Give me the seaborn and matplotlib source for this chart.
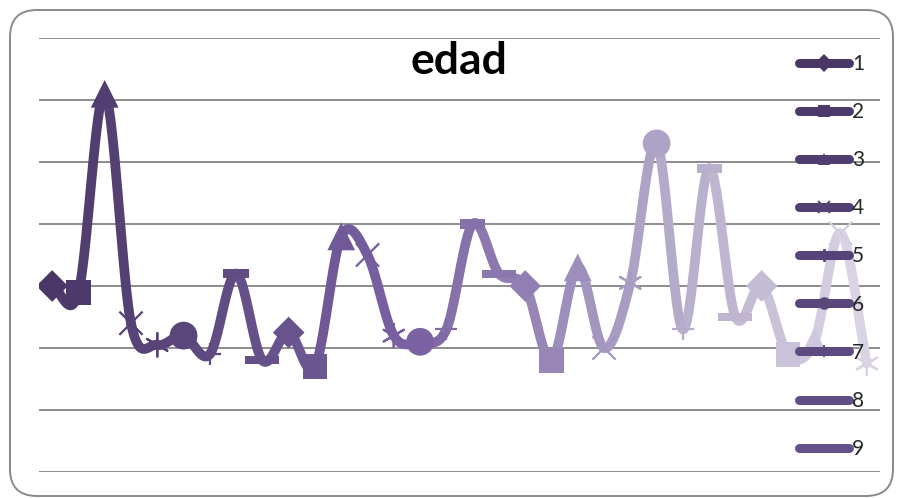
import numpy as np
import pandas as pd
import matplotlib
matplotlib.use("Agg")
import matplotlib.pyplot as plt
import seaborn as sns
from matplotlib.lines import Line2D
from matplotlib.patches import FancyBboxPatch
from matplotlib.path import Path
from matplotlib.colors import LinearSegmentedColormap, to_hex

# ---- data ----
categorias = [str(i) for i in range(1, 33)]
edad = [30, 29, 61, 24, 20.5, 22, 19, 32, 18, 22.5, 17, 38, 35, 22, 21, 23,
        40, 32, 30, 18, 33, 20, 30.5, 53, 23, 49, 25, 30, 19, 21, 38.5, 17.5]
leyenda = [str(i) for i in range(1, 10)]
titulo = "edad"

# ---- style ----
sns.set_theme(style="white")
plt.rcParams["font.family"] = ["Lato", "DejaVu Sans"]

W, H = 897, 498
fig = plt.figure(figsize=(W / 100, H / 100), dpi=100)
ax = fig.add_axes([39 / W, 1 - 472 / H, (880 - 39) / W, (472 - 38) / H])

n = len(edad)
cmap = LinearSegmentedColormap.from_list(
    "morado", [(0.0, "#4a3766"), (0.45, "#7a62a3"), (0.75, "#b0a5c7"), (1.0, "#d9d3e4")])
colores = [to_hex(cmap(i / (n - 1))) for i in range(n)]

dash = Path([(-0.5, -0.18), (0.5, -0.18), (0.5, 0.18), (-0.5, 0.18), (-0.5, -0.18)],
            [Path.MOVETO, Path.LINETO, Path.LINETO, Path.LINETO, Path.CLOSEPOLY])
longdash = Path([(-0.5, -0.12), (0.5, -0.12), (0.5, 0.12), (-0.5, 0.12), (-0.5, -0.12)],
                [Path.MOVETO, Path.LINETO, Path.LINETO, Path.LINETO, Path.CLOSEPOLY])
marcadores = ["D", "s", "^", "x", (6, 2, 0), "o", "+", dash, longdash]
tamanos = [260, 320, 400, 280, 280, 400, 250, 330, 600]
lineart = [False, False, False, True, True, False, True, False, False]

df = pd.DataFrame({"x": np.arange(n), "edad": edad, "cat": categorias})

# ---- smoothed line (display-space Catmull-Rom), segment colored by end point ----
sx, sy = 26.3, 6.2
P = np.column_stack([df["x"].values * sx, np.array(edad) * sy])
T = np.zeros_like(P)
T[1:-1] = (P[2:] - P[:-2]) / 2
T[0] = P[1] - P[0]
T[-1] = P[-1] - P[-2]
t = np.linspace(0, 1, 30)[:, None]
for i in range(n - 1):
    p0, p3 = P[i], P[i + 1]
    p1 = p0 + T[i] / 3
    p2 = p3 - T[i + 1] / 3
    c = ((1 - t) ** 3) * p0 + 3 * ((1 - t) ** 2) * t * p1 + 3 * (1 - t) * t ** 2 * p2 + t ** 3 * p3
    seg = pd.DataFrame({"x": c[:, 0] / sx, "y": c[:, 1] / sy})
    sns.lineplot(data=seg, x="x", y="y", sort=False, ax=ax, color=colores[i + 1],
                 lw=7, solid_capstyle="round", zorder=2, legend=False)

# ---- markers ----
for k, m in enumerate(marcadores):
    sub = df[df["x"] % 9 == k]
    pal = {c: colores[int(c) - 1] for c in sub["cat"]}
    kw = dict(linewidth=1.6) if lineart[k] else dict(linewidth=0)
    sns.scatterplot(data=sub, x="x", y="edad", hue="cat", palette=pal, marker=m,
                    s=tamanos[k], ax=ax, legend=False, zorder=3, **kw)

ax.set_xlim(-0.5, n - 0.5)
ax.set_ylim(0, 70)
ax.set_yticks(np.arange(0, 71, 10))
ax.set_xticks([])
ax.set_yticklabels([])
ax.tick_params(left=False, bottom=False)
ax.set_xlabel("")
ax.set_ylabel("")
ax.grid(axis="y", color="#8c8c8c", lw=1.4)
ax.set_axisbelow(True)
for s in ax.spines.values():
    s.set_visible(False)
ax.patch.set_alpha(0)

# ---- title ----
fig.text(459 / W, 1 - 61 / H, titulo, ha="center", va="center", fontsize=32,
         fontweight="bold", color="black")

# ---- legend ----
handles = []
for k in range(9):
    m = marcadores[k] if k < 7 else "None"
    handles.append(Line2D([0], [0], color=colores[k], lw=6.5, solid_capstyle="round",
                          marker=m, markersize=9, markeredgewidth=1.4 if lineart[k] else 0,
                          markerfacecolor=colores[k], markeredgecolor=colores[k]))
leg = fig.legend(handles, leyenda, loc="upper left", bbox_to_anchor=(799 / W, 1 - 54 / H),
                 frameon=False, fontsize=15, handlelength=2.4, handletextpad=0.15,
                 labelspacing=1.35, borderpad=0, borderaxespad=0)
leg.set_zorder(10)

# ---- rounded frame ----
frame = FancyBboxPatch((10 / W, 2 / H), (893 - 10) / W, (488 - 2) / H,
                       boxstyle="round,pad=0,rounding_size=0.03",
                       transform=fig.transFigure, fill=False, edgecolor="#8a8a8a",
                       lw=1.4, mutation_aspect=W / H)
fig.patches.append(frame)

fig.savefig("out.png", dpi=100)
